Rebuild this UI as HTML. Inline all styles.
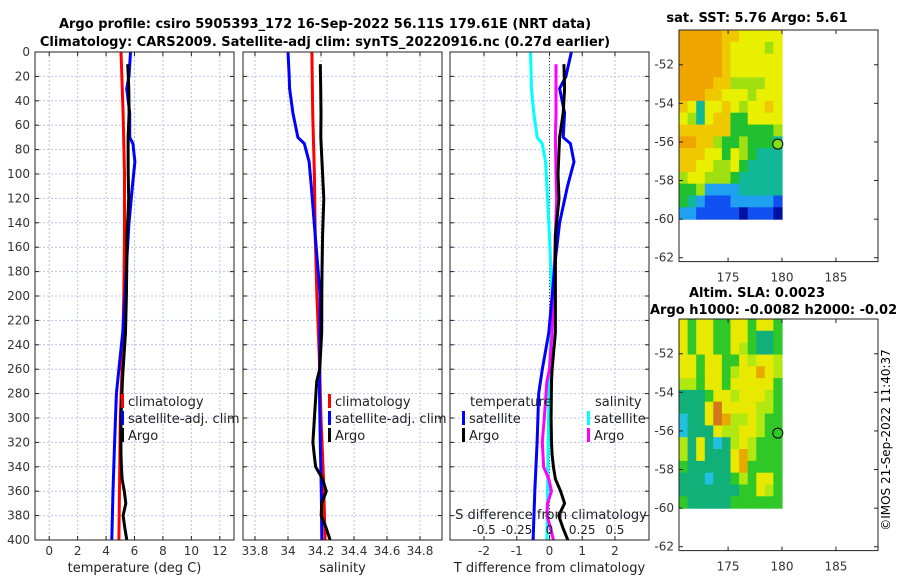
<!DOCTYPE html>
<html><head><meta charset="utf-8"><style>
html,body{margin:0;padding:0;background:#fff;}
svg{display:block;font-family:"DejaVu Sans","Liberation Sans",sans-serif;}
</style></head><body>
<svg id="fig" width="900" height="580" viewBox="0 0 900 580" xmlns="http://www.w3.org/2000/svg">
<text x="325" y="28" text-anchor="middle" font-size="13" font-weight="bold">Argo profile: csiro 5905393_172 16-Sep-2022 56.11S 179.61E (NRT data)</text>
<text x="325" y="46" text-anchor="middle" font-size="13" font-weight="bold">Climatology: CARS2009. Satellite-adj clim: synTS_20220916.nc (0.27d earlier)</text>
<text x="757" y="22" text-anchor="middle" font-size="13" font-weight="bold">sat. SST: 5.76 Argo: 5.61</text>
<text x="757" y="297" text-anchor="middle" font-size="13" font-weight="bold">Altim. SLA: 0.0023</text>
<text x="650" y="314" font-size="13" font-weight="bold">Argo h1000: -0.0082 h2000: -0.02</text>
<text transform="translate(890,440) rotate(-90)" text-anchor="middle" font-size="12">©IMOS 21-Sep-2022 11:40:37</text>
<g id="plots"></g>
</svg>
<script>
// ---- profile data ----
const depthsClim = [0, 50, 100, 150, 200, 250, 300, 350, 400];
const climT = [5.05, 5.2, 5.3, 5.3, 5.25, 5.15, 5.0, 4.95, 4.9];
const climS = [34.145, 34.15, 34.16, 34.165, 34.175, 34.19, 34.2, 34.215, 34.225];
const depthsSat = [0, 20, 30, 50, 70, 75, 90, 110, 140, 170, 200, 230, 260, 280, 320, 360, 400];
const satTdiff = [0.67, 0.5, 0.31, 0.46, 0.42, 0.64, 0.75, 0.55, 0.31, 0.18, 0.08, -0.02, -0.22, -0.33, -0.38, -0.45, -0.5];
const satSdiff = [-0.145, -0.14, -0.138, -0.12, -0.094, -0.056, -0.03, -0.02, -0.005, 0.008, 0.02, 0.01, 0.0, -0.005, -0.01, -0.015, -0.02];
const depthsArgo = [10, 30, 50, 70, 100, 120, 150, 180, 200, 230, 260, 270, 300, 320, 330, 340, 350, 360, 370, 380, 390, 400];
const argoTdiff = [0.44, 0.46, 0.42, 0.31, 0.26, 0.29, 0.18, 0.18, 0.18, 0.18, 0.08, 0.06, 0.05, 0.06, 0.08, 0.12, 0.18, 0.34, 0.46, 0.28, 0.41, 0.56];
const argoSdiff = [0.05, 0.05, 0.05, 0.045, 0.05, 0.055, 0.045, 0.035, 0.03, 0.02, 0.0, -0.02, -0.04, -0.055, -0.05, -0.045, -0.005, 0.015, -0.015, -0.02, 0.008, 0.03];
const depthTicks = [0,20,40,60,80,100,120,140,160,180,200,220,240,260,280,300,320,340,360,380,400];
const tTicks = [0,2,4,6,8,10,12];
const sTicks = [33.8,34,34.2,34.4,34.6,34.8];
const dTTicks = [-2,-1,0,1,2];
const dSTicks = [-0.5,-0.25,0,0.25,0.5];
const dSTickLabels = ['-0.5','-0.25','0','0.25','0.5'];
// ---- map data (12 cols x 16 rows) ----
const sstGrid = [
[7,7,7,7,6.8,6.5,6.3,6,6,6,6,6],
[7,7,7,7,6.8,6.5,6.2,6,6,6,5.5,6],
[7,7,7,7,7,6.5,6.2,6,6,6,6,6],
[7,7,7,7,6.8,6.5,6.2,5.8,6,6,6,6],
[7,7,7,6.8,6.5,6.3,5.5,5.3,5.3,5.5,6,6],
[7,7,7,6.5,6.3,6,5.8,6,5.5,6,6,6],
[6.3,5.8,4.5,6,6.2,6.3,6,5.7,6,6,6.5,6],
[5.8,5.3,4.5,5.8,6.5,6.3,5,5,5.8,6,6,6],
[6.5,6.5,6.3,6.5,6.3,6.3,5,5,5,5.2,5.2,5.3],
[6.8,6.8,6.5,6.3,5.3,5,5.2,5.3,5,4.8,4.8,4.7],
[6.5,6.3,6.3,6,5.8,5.2,5.8,5.5,4.8,4.7,4.7,4.6],
[6.3,6.3,6,6,5.5,5.5,5.8,4.8,4.7,4.7,4.7,4.6],
[5.5,6,5.8,5.3,5.3,5.3,5,4.7,4.7,4.6,4.6,4.6],
[5,5.2,5.5,4.3,4.2,4.3,4.3,4.4,4.5,4.6,4.6,4.5],
[4.8,4.5,4.2,4,4,4,4.2,4.2,4.2,4.3,4.3,3.5],
[4.3,4.1,3.8,3.8,3.8,3.5,3.5,3.3,3.5,3.8,3.8,3.0]];
const slaGrid = [
[0.05,0,0.05,0.05,0,0,0.05,0.05,0,0.05,0.05,0.02],
[0.05,0,0.05,0.05,0,-0.01,0.05,0.05,0,-0.05,-0.05,0],
[0.05,0,0.06,0.05,0,0,0.05,0.04,0,-0.06,-0.04,0],
[0.05,0.05,0,0.05,0.05,0,0,0.05,0.04,0.08,0.06,0.03],
[0.05,0.05,0,0.05,0.07,0,0.04,0.05,0.06,0.1,0.06,0.03],
[0.04,0.04,0.02,0.05,0.06,0.02,0.05,0.05,0.05,0.06,0.05,0.02],
[-0.04,-0.03,-0.02,0.02,0.05,0.05,0.04,0.05,0.05,0.05,0.04,0.02],
[-0.05,-0.05,-0.02,0.08,0.13,0.08,0.05,0.05,0.05,0.04,0.04,0],
[-0.07,-0.05,-0.03,0.05,0.14,0.1,0.04,0.04,0.05,0.04,0.02,0],
[-0.08,-0.06,-0.05,-0.02,0.05,0.04,0.03,0.06,0.05,0.03,0,0],
[0.04,-0.04,0.07,-0.04,-0.08,-0.03,0.03,0.05,0.04,0,0,0],
[0.04,-0.03,0.05,-0.03,-0.06,-0.02,0.05,0.09,0.03,0,0,0],
[0,-0.02,-0.04,-0.05,-0.04,-0.02,0.06,0.09,0,0,0,0],
[-0.02,-0.04,-0.05,-0.07,-0.06,-0.02,0,0.03,0,0.06,0.05,0],
[-0.03,-0.04,-0.05,-0.06,-0.05,-0.03,-0.02,0,0,0.05,0.04,0],
[0,-0.02,-0.03,-0.03,-0.03,-0.02,-0.01,0,-0.01,0,0,0]];
const floatLon = 179.61;
const floatLat = -56.11;
const latTicks = [-52,-54,-56,-58,-60,-62];
const lonTicks = [175,180,185];

const NS='http://www.w3.org/2000/svg';
const root=document.getElementById('plots');
function el(tag,attrs,parent){const e=document.createElementNS(NS,tag);for(const k in attrs)e.setAttribute(k,attrs[k]);(parent||root).appendChild(e);return e;}
function txt(s,attrs,parent){const e=el('text',attrs,parent);e.textContent=s;return e;}
function interp(dx,dv,d){for(let i=0;i<dx.length-1;i++){if(d>=dx[i]&&d<=dx[i+1]){const f=(d-dx[i])/(dx[i+1]-dx[i]);return dv[i]+f*(dv[i+1]-dv[i]);}}return d<dx[0]?dv[0]:dv[dv.length-1];}

const TOP=52,BOT=540;
const yD=d=>TOP+d/400*(BOT-TOP);
const panels=[
 {name:'temperature',x0:35,x1:234,min:-1,max:13},
 {name:'salinity',x0:243,x1:442,min:33.7273,max:34.9333},
 {name:'difference',x0:450,x1:649,min:-3.04,max:3.04}];
function xS(p,v){return p.x0+(v-p.min)/(p.max-p.min)*(p.x1-p.x0);}
const xDS=v=>549.5+v*130.8; // salinity diff axis

function frame(p,ticks,labels,xlabel){
  const g=el('g',{});
  
  
  el('rect',{x:p.x0,y:TOP,width:p.x1-p.x0,height:BOT-TOP,fill:'#fff'},g);
  depthTicks.forEach(d=>{const l=el('line',{x1:p.x0,x2:p.x1,y1:yD(d),y2:yD(d),stroke:'#b9c3ea','stroke-dasharray':'2,2','stroke-width':1},g);
    });
  ticks.forEach((t,i)=>{const x=xS(p,t);
    const l=el('line',{x1:x,x2:x,y1:TOP,y2:BOT,stroke:'#b9c3ea','stroke-dasharray':'2,2','stroke-width':1},g);
    
    el('line',{x1:x,x2:x,y1:BOT,y2:BOT-4,stroke:'#222'},g);el('line',{x1:x,x2:x,y1:TOP,y2:TOP+4,stroke:'#222'},g);
    const tl=txt(labels[i],{x:x,y:555,'text-anchor':'middle','font-size':12,fill:'#333'},g);
    });
  depthTicks.forEach(d=>{el('line',{x1:p.x0,x2:p.x0+4,y1:yD(d),y2:yD(d),stroke:'#222'},g);el('line',{x1:p.x1,x2:p.x1-4,y1:yD(d),y2:yD(d),stroke:'#222'},g);});
  const xl=txt(xlabel,{x:(p.x0+p.x1)/2,y:572,'text-anchor':'middle','font-size':13,fill:'#222'},g);
  
  return g;
}
function line(g,pts,color,name){
  const pl=el('polyline',{points:pts.map(p=>p[0].toFixed(1)+','+p[1].toFixed(1)).join(' '),fill:'none',stroke:color,'stroke-width':3,'stroke-linejoin':'round'},g);
  
}
function box(p,g){el('rect',{x:p.x0,y:TOP,width:p.x1-p.x0,height:BOT-TOP,fill:'none',stroke:'#222','stroke-width':1},g);}
function legend(g,x,y,items){
  items.forEach((it,i)=>{const yy=y+i*17;
    const r=el('rect',{x:x,y:yy-12,width:3,height:14,fill:it[1]},g);
    
    const t=txt(it[0],{x:x+7,y:yy,'font-size':13,fill:'#222'},g);
    });
}

// Panel 1
const p1=panels[0];
const g1=frame(p1,tTicks,tTicks.map(String),'temperature (deg C)');
depthTicks.forEach(d=>{const t=txt(String(d),{x:p1.x0-5,y:yD(d)+4,'text-anchor':'end','font-size':12,fill:'#333'},g1);
  });
line(g1,depthsClim.map((d,i)=>[xS(p1,climT[i]),yD(d)]),'#f00','climatology-temperature-line');
line(g1,depthsSat.map((d,i)=>[xS(p1,interp(depthsClim,climT,d)+satTdiff[i]),yD(d)]),'#00f','satellite-temperature-line');
line(g1,depthsArgo.map((d,i)=>[xS(p1,interp(depthsClim,climT,d)+argoTdiff[i]),yD(d)]),'#000','argo-temperature-line');
box(p1,g1);
legend(g1,121,406,[['climatology','#f00'],['satellite-adj. clim','#00f'],['Argo','#000']]);

// Panel 2
const p2=panels[1];
const g2=frame(p2,sTicks,sTicks.map(String),'salinity');
line(g2,depthsClim.map((d,i)=>[xS(p2,climS[i]),yD(d)]),'#f00','climatology-salinity-line');
line(g2,depthsSat.map((d,i)=>[xS(p2,interp(depthsClim,climS,d)+satSdiff[i]),yD(d)]),'#00f','satellite-salinity-line');
line(g2,depthsArgo.map((d,i)=>[xS(p2,interp(depthsClim,climS,d)+argoSdiff[i]),yD(d)]),'#000','argo-salinity-line');
box(p2,g2);
legend(g2,328,406,[['climatology','#f00'],['satellite-adj. clim','#00f'],['Argo','#000']]);

// Panel 3
const p3=panels[2];
const g3=frame(p3,dTTicks,dTTicks.map(String),'T difference from climatology');
el('line',{x1:xS(p3,0),x2:xS(p3,0),y1:TOP,y2:BOT,stroke:'#444','stroke-dasharray':'1,2'},g3);
line(g3,depthsSat.map((d,i)=>[xDS(satSdiff[i]),yD(d)]),'#0ff','satellite-salinity-diff-line');
line(g3,depthsArgo.map((d,i)=>[xDS(argoSdiff[i]),yD(d)]),'#f0f','argo-salinity-diff-line');
line(g3,depthsSat.map((d,i)=>[xS(p3,satTdiff[i]),yD(d)]),'#00f','satellite-temperature-diff-line');
line(g3,depthsArgo.map((d,i)=>[xS(p3,argoTdiff[i]),yD(d)]),'#000','argo-temperature-diff-line');
box(p3,g3);
let t3=txt('temperature',{x:470,y:406,'font-size':13,fill:'#222'},g3);

legend(g3,462,423,[['satellite','#00f'],['Argo','#000']]);
t3=txt('salinity',{x:595,y:406,'font-size':13,fill:'#222'},g3);

legend(g3,587,423,[['satellite','#0ff'],['Argo','#f0f']]);
t3=txt('S difference from climatology',{x:551,y:519,'text-anchor':'middle','font-size':13,fill:'#222'},g3);

dSTicks.forEach((v,i)=>{const t=txt(dSTickLabels[i],{x:xDS(v),y:534,'text-anchor':'middle','font-size':12,fill:'#222'},g3);
  });

// ---- maps ----
function sstColor(v){const stops=[[3,'#0010a0'],[3.8,'#1050f0'],[4.2,'#20a0f0'],[4.5,'#10b898'],[5,'#20c030'],[5.5,'#a0e010'],[6,'#e8f000'],[6.5,'#f0c800'],[7,'#f0a400']];return pick(stops,v);}
function slaColor(v){const stops=[[-0.08,'#20c0e0'],[-0.04,'#10b078'],[0,'#30c828'],[0.04,'#b0e810'],[0.06,'#e8e800'],[0.1,'#e8a800'],[0.14,'#d07818']];return pick(stops,v);}
function pick(stops,v){let best=stops[0];stops.forEach(s=>{if(Math.abs(s[0]-v)<Math.abs(best[0]-v))best=s;});return best[1];}
function drawMap(name,top,grid,colorFn,markFill){
  const g=el('g',{});
  
  
  const X0=679,X1=878,lon0=170.45,lon1=188.9;
  const yL=lat=>top+(-50.2-lat)*19.3;
  const xL=lon=>X0+(lon-lon0)/(lon1-lon0)*(X1-X0);
  const rows=grid.length,cols=grid[0].length;
  const la0=-50.2,la1=-60,lo0=lon0,lo1=180;
  for(let r=0;r<rows;r++)for(let c=0;c<cols;c++){
    const xa=xL(lo0+(lo1-lo0)*c/cols),xb=xL(lo0+(lo1-lo0)*(c+1)/cols);
    const ya=yL(la0+(la1-la0)*r/rows),yb=yL(la0+(la1-la0)*(r+1)/rows);
    const cell=el('rect',{x:xa.toFixed(1),y:ya.toFixed(1),width:(xb-xa+0.6).toFixed(1),height:(yb-ya+0.6).toFixed(1),fill:colorFn(grid[r][c])},g);
    
    
  }
  const bottom=yL(-62.2);
  el('rect',{x:X0,y:top,width:X1-X0,height:bottom-top,fill:'none',stroke:'#222'},g);
  latTicks.forEach(l=>{const y=yL(l);el('line',{x1:X0,x2:X0+4,y1:y,y2:y,stroke:'#222'},g);el('line',{x1:X1,x2:X1-4,y1:y,y2:y,stroke:'#222'},g);
    const t=txt(String(l),{x:X0-5,y:y+4,'text-anchor':'end','font-size':12,fill:'#333'},g);
    });
  lonTicks.forEach(l=>{const x=xL(l);el('line',{x1:x,x2:x,y1:bottom,y2:bottom-4,stroke:'#222'},g);el('line',{x1:x,x2:x,y1:top,y2:top+4,stroke:'#222'},g);
    const t=txt(String(l),{x:x,y:bottom+20,'text-anchor':'middle','font-size':12,fill:'#333'},g);
    });
  const m=el('circle',{cx:xL(floatLon),cy:yL(floatLat),r:5,fill:markFill,stroke:'#000','stroke-width':1},g);
  
  
}
drawMap('sst-map',30,sstGrid,sstColor,'#80e020');
drawMap('sla-map',319,slaGrid,slaColor,'#30c828');
</script>
</body></html>
